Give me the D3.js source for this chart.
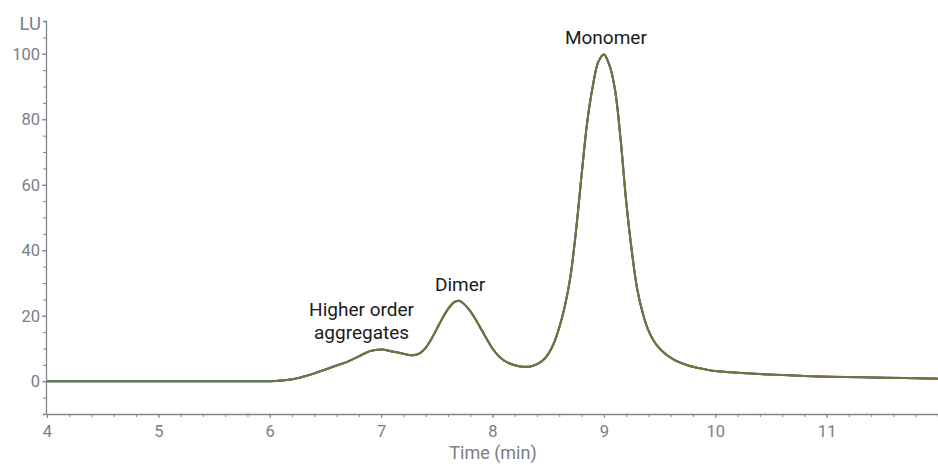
<!DOCTYPE html>
<html><head><meta charset="utf-8">
<script src="https://cdn.jsdelivr.net/npm/d3@7"></script>
<style>
html,body{margin:0;padding:0;background:#fff;}
svg{display:block;font-family:Roboto,"Noto Sans",sans-serif;}
</style></head>
<body><svg id="c" width="938" height="465"></svg>
<script>
// time (min)
const times = [4.0,5.0,6.0,6.05,6.1,6.2,6.3,6.4,6.5,6.6,6.7,6.8,6.9,7.0,7.1,7.2,7.25,7.3,7.35,7.4,7.45,7.5,7.55,7.6,7.65,7.7,7.75,7.8,7.85,7.9,7.95,8.0,8.05,8.1,8.15,8.2,8.25,8.3,8.35,8.4,8.45,8.5,8.55,8.6,8.65,8.7,8.75,8.8,8.85,8.9,8.95,9.0,9.05,9.1,9.15,9.2,9.25,9.3,9.35,9.4,9.45,9.5,9.55,9.6,9.65,9.7,9.75,9.8,9.9,10.0,10.2,10.4,10.6,10.8,11.0,11.5,12.0];
// fluorescence signal (LU)
const signal = [0,0,0,0.05,0.2,0.6,1.4,2.4,3.6,4.8,6.0,7.6,9.2,9.7,9.1,8.4,8.0,8.0,8.6,10.2,12.8,16.0,19.2,22.0,24.0,24.6,23.4,21.4,18.8,15.8,12.8,10.0,7.9,6.4,5.5,4.9,4.5,4.4,4.6,5.2,6.3,8.3,11.5,16.5,23.0,32.0,46.0,63.0,79.0,90.0,97.5,99.8,96.5,89.0,74.0,55.0,40.0,28.0,20.7,15.5,12.2,10.0,8.4,7.2,6.2,5.5,4.9,4.4,3.7,3.1,2.6,2.2,1.9,1.6,1.4,1.1,0.8];
const xTicks = [4,5,6,7,8,9,10,11];
const yTicks = [0,20,40,60,80,100];
const peakLabels = [
  {t:9.0, v:100, dx:2, lines:["Monomer"]},
  {t:7.7, v:24.6, dx:1, lines:["Dimer"]},
  {t:6.95, v:9.8, dx:-14, lines:["Higher order","aggregates"]}
];
const traceColors = ["#3b5fc4","#d0507a","#2f9a4a","#7c6e3c"];

const svg = d3.select("#c");
const x = d3.scaleLinear().domain([4,12]).range([47,938]);
const y = d3.scaleLinear().domain([-10,110]).range([414,21]);
const axisColor = "#80848b";
const textColor = "#7a7e85";

// y axis
const yAx = svg.append("g").attr("transform","translate(46,0)")
  .call(d3.axisLeft(y).tickValues(d3.range(-10,110.001,5)).tickSize(3).tickFormat(""));
yAx.select(".domain").attr("stroke",axisColor).attr("stroke-width",1.3);
yAx.selectAll(".tick line").attr("stroke",axisColor);
const yLab = svg.append("g").attr("transform","translate(46,0)")
  .call(d3.axisLeft(y).tickValues(yTicks).tickSize(4).tickPadding(2));
yLab.select(".domain").remove();
yLab.selectAll(".tick line").attr("stroke",axisColor);
yLab.selectAll("text").attr("fill",textColor).style("font-size","16.5px").style("font-family","Roboto");

// x axis
const xAx = svg.append("g").attr("transform","translate(0,414)")
  .call(d3.axisBottom(x).tickValues(d3.range(4,12.001,0.2)).tickSize(3).tickFormat(""));
xAx.select(".domain").attr("stroke",axisColor).attr("stroke-width",1.3);
xAx.selectAll(".tick line").attr("stroke",axisColor);
const xLab = svg.append("g").attr("transform","translate(0,414)")
  .call(d3.axisBottom(x).tickValues(xTicks).tickSize(4).tickPadding(7));
xLab.select(".domain").remove();
xLab.selectAll(".tick line").attr("stroke",axisColor);
xLab.selectAll("text").attr("fill",textColor).style("font-size","16.5px").style("font-family","Roboto");

// axis titles
svg.append("text").attr("x",41).attr("y",30).attr("text-anchor","end")
  .attr("fill",textColor).style("font-size","18.5px").text("LU");
svg.append("text").attr("x",493).attr("y",459).attr("text-anchor","middle")
  .attr("fill",textColor).style("font-size","18px").text("Time (min)");

// traces
const data = times.map((t,i)=>({t, v:signal[i]}));
const line = d3.line().x(d=>x(d.t)).y(d=>y(d.v)).curve(d3.curveCatmullRom.alpha(0.5));
traceColors.forEach((c,i)=>{
  svg.append("path").datum(data).attr("d",line)
    .attr("fill","none").attr("stroke",c)
    .attr("stroke-width", i===traceColors.length-1 ? 1.6 : 2.0)
    .attr("stroke-linejoin","round");
});

// peak labels
peakLabels.forEach(p=>{
  const n = p.lines.length;
  const g = svg.append("text").attr("text-anchor","middle").attr("fill","#1a1a1a").style("font-size","19px");
  const baseY = y(p.v) - 10 - (n-1)*23;
  p.lines.forEach((l,i)=>{
    g.append("tspan").attr("x", x(p.t) + p.dx).attr("y", baseY + i*23).text(l);
  });
});
</script></body></html>
